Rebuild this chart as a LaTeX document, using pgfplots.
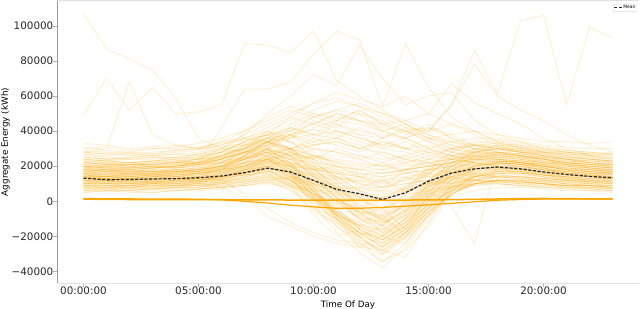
\documentclass[border=0pt]{standalone}
\usepackage{pgfplots}
\usepackage{pgfplotstable}
\pgfplotsset{compat=1.18}
\usepackage{fontspec}
\setmainfont{DejaVu Sans}
\definecolor{org}{HTML}{FFA500}
\definecolor{tickc}{HTML}{262626}

\pgfplotstableread{
id h0 h1 h2 h3 h4 h5 h6 h7 h8 h9 h10 h11 h12 h13 h14 h15 h16 h17 h18 h19 h20 h21 h22 h23
c1 12000 11000 12000 11000 12000 13000 14000 17000 20000 15000 8000 1000 -5000 -9000 -3000 6000 14000 18000 20000 19000 17000 15000 14000 13000
c2 18000 17000 16000 18000 17000 18000 21000 24000 27000 21000 11000 3000 -7000 -13000 -5000 9000 18000 23000 25000 24000 22000 21000 19000 18000
c3 8000 7000 7000 8000 9000 9000 10000 12000 14000 9000 1000 -7000 -13000 -17000 -10000 0 8000 12000 14000 13000 12000 10000 9000 8000
c4 22000 21000 20000 22000 22000 23000 25000 28000 31000 25000 15000 5000 -4000 -11000 -2000 12000 22000 27000 28000 27000 25000 23000 22000 21000
c5 14000 13000 14000 13000 14000 15000 17000 20000 22000 17000 6000 -6000 -16000 -22000 -14000 2000 13000 18000 21000 20000 18000 16000 15000 14000
c6 10000 10000 9000 10000 11000 11000 12000 15000 16000 12000 4000 -3000 -9000 -12000 -5000 4000 10000 13000 15000 14000 13000 12000 11000 10000
c7 27000 25000 24000 25000 25000 27000 29000 32000 35000 29000 18000 8000 -2000 -7000 3000 15000 25000 30000 32000 31000 28000 27000 25000 24000
c8 16000 15000 16000 16000 17000 17000 19000 22000 24000 16000 3000 -10000 -21000 -28000 -18000 -2000 12000 20000 23000 22000 20000 18000 17000 16000
c9 6000 6000 6000 7000 7000 7000 8000 10000 12000 6000 -4000 -14000 -24000 -31000 -21000 -6000 4000 10000 12000 12000 10000 8000 7000 6000
c10 20000 19000 18000 19000 20000 21000 23000 27000 30000 22000 8000 -6000 -18000 -26000 -14000 3000 16000 23000 26000 25000 23000 21000 20000 19000
c11 12000 12000 11000 12000 13000 13000 15000 18000 20000 13000 1000 -12000 -23000 -35000 -24000 -8000 6000 14000 17000 17000 15000 13000 12000 12000
c12 15000 14000 14000 15000 15000 16000 18000 20000 23000 20000 14000 6000 0 -4000 1000 8000 16000 20000 22000 21000 19000 17000 16000 15000
c13 9000 9000 8000 9000 9000 10000 11000 13000 15000 10000 2000 -6000 -12000 -20000 -12000 -2000 6000 10000 12000 12000 11000 10000 9000 9000
c14 24000 23000 22000 23000 23000 24000 26000 31000 34000 26000 14000 2000 -10000 -18000 -6000 10000 22000 28000 30000 29000 27000 25000 24000 23000
c15 13000 13000 12000 13000 13000 14000 16000 19000 22000 14000 -2000 -18000 -29000 -38000 -26000 -10000 6000 15000 18000 18000 16000 14000 13000 13000
c16 11000 10000 10000 11000 11000 12000 14000 16000 18000 12000 0 -10000 -20000 -24000 -16000 -4000 8000 14000 16000 16000 14000 12000 11000 11000
c17 17000 16000 16000 17000 17000 18000 20000 23000 25000 18000 6000 -4000 -14000 -20000 -10000 5000 16000 21000 23000 22000 20000 18000 17000 16000
c18 7000 7000 7000 7000 8000 8000 9000 11000 13000 9000 1000 -7000 -14000 -16000 -8000 0 6000 9000 11000 11000 10000 8000 8000 7000
c19 19000 18000 18000 19000 19000 20000 22000 26000 28000 24000 16000 8000 2000 -4000 4000 12000 20000 25000 27000 26000 24000 22000 20000 19000
c20 14000 14000 13000 14000 15000 15000 17000 21000 24000 18000 6000 -8000 -18000 -26000 -16000 0 12000 18000 20000 20000 18000 16000 15000 14000
c21 16000 17000 15000 16000 18000 17000 20000 25000 30000 26000 18000 10000 -2000 -12000 -6000 6000 18000 26000 28000 26000 23000 21000 19000 17000
c22 10000 11000 10000 11000 10000 12000 13000 17000 21000 16000 5000 -5000 -15000 -19000 -10000 3000 12000 16000 18000 17000 15000 13000 12000 11000
c23 21000 22000 20000 21000 22000 21000 24000 29000 33000 28000 20000 12000 4000 -2000 6000 16000 24000 29000 31000 29000 26000 24000 22000 21000
c24 5000 6000 5000 5000 6000 6000 7000 9000 11000 7000 -2000 -10000 -18000 -22000 -14000 -4000 3000 6000 8000 8000 7000 6000 6000 5000
c25 13000 12000 13000 14000 13000 14000 16000 19000 23000 19000 10000 0 -10000 -16000 -8000 6000 15000 20000 22000 21000 19000 16000 14000 13000
c26 28000 27000 28000 27000 29000 30000 32000 36000 40000 34000 24000 12000 2000 -6000 4000 18000 28000 33000 35000 33000 31000 29000 28000 27000
c27 9000 10000 9000 10000 9000 11000 12000 16000 19000 14000 4000 -6000 -16000 -24000 -16000 -4000 7000 12000 14000 14000 12000 11000 10000 9000
c28 17000 18000 17000 17000 18000 19000 21000 25000 29000 24000 14000 2000 -8000 -14000 -4000 10000 20000 25000 27000 26000 24000 21000 19000 18000
c29 12000 12000 13000 12000 12000 13000 15000 18000 21000 15000 3000 -9000 -20000 -30000 -20000 -4000 9000 15000 17000 17000 15000 14000 13000 12000
c30 23000 22000 22000 23000 24000 24000 26000 30000 34000 30000 22000 14000 6000 0 8000 18000 26000 30000 31000 30000 27000 25000 24000 23000
c31 15000 15000 14000 15000 16000 16000 18000 22000 25000 20000 12000 2000 -6000 -10000 -2000 10000 18000 22000 24000 23000 21000 18000 17000 16000
c32 8000 8000 8000 9000 8000 9000 10000 14000 17000 12000 2000 -8000 -18000 -26000 -18000 -6000 5000 10000 12000 11000 10000 9000 9000 8000
c33 19000 20000 19000 20000 21000 22000 24000 28000 30000 22000 8000 -8000 -20000 -30000 -18000 0 16000 24000 27000 26000 24000 22000 20000 19000
c34 11000 11000 12000 11000 12000 12000 14000 17000 20000 16000 8000 0 -6000 -8000 0 8000 14000 17000 19000 18000 16000 14000 12000 11000
c35 14000 13000 13000 14000 14000 15000 18000 24000 30000 36000 42000 46000 44000 40000 36000 30000 26000 22000 20000 19000 18000 16000 15000 14000
c36 20000 19000 19000 19000 20000 21000 24000 30000 36000 42000 48000 52000 50000 46000 40000 34000 28000 25000 24000 22000 21000 20000 19000 19000
c37 10000 10000 10000 10000 11000 11000 14000 18000 24000 28000 32000 34000 30000 28000 24000 20000 16000 14000 13000 12000 12000 11000 10000 10000
c38 24000 23000 22000 23000 24000 25000 28000 34000 40000 46000 52000 57000 54000 50000 44000 38000 32000 28000 27000 26000 25000 24000 23000 22000
c39 16000 15000 15000 15000 16000 17000 20000 26000 32000 38000 41000 38000 34000 30000 28000 24000 22000 20000 19000 18000 17000 16000 16000 15000
c40 12000 12000 11000 12000 12000 13000 16000 20000 26000 30000 34000 36000 32000 26000 22000 18000 16000 15000 14000 14000 13000 12000 12000 12000
c41 28000 27000 26000 27000 28000 29000 32000 38000 44000 50000 56000 59000 54000 48000 42000 36000 32000 30000 29000 28000 28000 27000 26000 26000
c42 18000 17000 17000 17000 18000 19000 22000 28000 34000 36000 38000 40000 36000 32000 30000 28000 26000 24000 22000 21000 20000 19000 18000 18000
c43 8000 8000 8000 8000 9000 10000 12000 16000 20000 24000 26000 26000 24000 20000 18000 16000 14000 12000 11000 10000 9000 9000 8000 8000
c44 22000 21000 21000 21000 22000 23000 26000 30000 36000 44000 50000 48000 46000 42000 40000 34000 30000 28000 26000 25000 24000 23000 22000 21000
c45 30000 31000 29000 30000 31000 33000 36000 40000 46000 52000 48000 44000 40000 38000 36000 40000 44000 40000 34000 32000 30000 29000 28000 27000
c46 18000 19000 18000 19000 20000 22000 26000 32000 38000 40000 44000 40000 38000 36000 40000 42000 38000 32000 28000 26000 24000 22000 21000 20000
c47 20000 20000 19000 20000 21000 22000 25000 30000 38000 48000 56000 62000 58000 54000 60000 50000 44000 38000 32000 28000 26000 24000 22000 21000
c48 15000 14000 15000 15000 16000 17000 20000 26000 34000 42000 38000 46000 52000 44000 38000 44000 36000 30000 26000 24000 22000 20000 18000 17000
c49 13000 12000 13000 13000 12000 13000 14000 16000 18000 18000 16000 14000 12000 12000 14000 16000 18000 19000 19000 18000 17000 15000 14000 13000
c50 21000 20000 20000 21000 21000 22000 23000 25000 26000 24000 22000 20000 18000 18000 20000 22000 24000 26000 26000 25000 24000 22000 21000 20000
c51 9000 9000 9000 9000 10000 10000 11000 12000 14000 12000 10000 8000 6000 6000 8000 10000 12000 14000 14000 13000 12000 11000 10000 9000
c52 31000 29000 28000 30000 30000 31000 33000 35000 38000 34000 30000 28000 26000 24000 26000 30000 34000 36000 36000 34000 32000 31000 30000 30000
c53 16000 16000 15000 16000 16000 17000 18000 20000 24000 26000 24000 20000 18000 16000 18000 20000 22000 24000 24000 23000 21000 19000 18000 17000
c54 6000 6000 6000 6000 6000 7000 8000 9000 10000 8000 6000 4000 2000 2000 4000 6000 8000 9000 10000 9000 8000 7000 7000 6000
c55 25000 24000 24000 24000 25000 25000 27000 30000 32000 30000 26000 22000 20000 18000 22000 26000 30000 32000 32000 31000 29000 27000 26000 25000
c56 11000 11000 11000 11000 11000 12000 13000 15000 17000 14000 10000 6000 4000 2000 6000 10000 14000 16000 17000 16000 15000 13000 12000 11000
c57 18000 18000 17000 18000 18000 19000 20000 22000 24000 22000 20000 18000 16000 16000 18000 20000 22000 24000 24000 23000 22000 20000 19000 18000
c58 14000 14000 14000 14000 15000 15000 16000 18000 20000 20000 18000 16000 14000 14000 16000 18000 20000 21000 21000 20000 18000 16000 15000 14000
c59 33000 32000 30000 31000 32000 30000 34000 36000 34000 38000 32000 36000 30000 34000 30000 36000 38000 40000 38000 36000 34000 34000 33000 34000
c60 7000 8000 7000 7000 8000 8000 9000 11000 12000 14000 12000 10000 12000 8000 10000 12000 10000 12000 11000 10000 9000 8000 8000 7000
c61 14000 13000 13000 14000 14000 14000 12000 4000 -9000 -14000 -20000 -24000 -26000 -28000 -20000 -8000 4000 12000 16000 16000 15000 14000 14000 14000
c62 10000 10000 10000 10000 10000 10000 8000 2000 -4000 -12000 -18000 -22000 -24000 -26000 -18000 -6000 4000 10000 12000 12000 11000 10000 10000 10000
c63 107000 87000 81000 75000 59000 36000 30000 28000 30000 26000 20000 14000 10000 8000 12000 18000 22000 26000 24000 22000 20000 18000 17000 16000
c64 49000 70000 52000 65000 50000 51000 55000 90000 89000 85000 97000 69000 60000 52000 44000 38000 34000 30000 28000 26000 24000 22000 21000 20000
c65 28000 30000 68000 38000 32000 30000 31000 33000 36000 30000 22000 14000 6000 2000 8000 16000 24000 28000 30000 28000 26000 24000 23000 22000
c66 18000 18000 18000 19000 20000 22000 42000 64000 64000 68000 84000 97000 92000 54000 90000 65000 48000 40000 34000 30000 28000 26000 24000 22000
c67 22000 21000 21000 22000 22000 24000 30000 38000 50000 60000 72000 66000 89000 70000 55000 60000 62000 46000 38000 34000 30000 28000 26000 25000
c68 14000 14000 13000 14000 15000 16000 18000 22000 28000 30000 32000 34000 30000 36000 42000 40000 55000 86000 61000 103000 106000 55000 99000 93000
c69 20000 19000 19000 20000 20000 21000 22000 25000 28000 20000 10000 0 -10000 -14000 0 6000 -3000 -24000 23000 22000 20000 18000 17000 16000
c70 16000 15000 16000 16000 17000 18000 20000 26000 34000 40000 48000 52000 56000 50000 46000 40000 55000 78000 60000 52000 46000 38000 32000 28000
c71 12000 12000 12000 13000 13000 14000 16000 22000 30000 38000 44000 50000 46000 44000 46000 50000 67000 56000 50000 44000 36000 30000 26000 24000
c72 15000 14000 16000 15000 14000 16000 18000 22000 25000 22000 12000 4000 -12000 -8000 -20000 -6000 10000 18000 22000 20000 18000 17000 16000 15000
c73 11000 12000 10000 11000 12000 11000 13000 15000 18000 10000 -8000 -20000 -16000 -22000 -12000 2000 10000 14000 16000 15000 14000 12000 11000 11000
c74 20000 19000 21000 20000 19000 21000 24000 28000 26000 18000 2000 -14000 -26000 -20000 -10000 8000 18000 24000 26000 25000 22000 21000 20000 19000
c75 9000 8000 9000 10000 9000 10000 11000 14000 16000 8000 -6000 -12000 -20000 -14000 -22000 -8000 4000 10000 12000 11000 10000 9000 9000 8000
c76 17000 18000 16000 17000 16000 18000 20000 24000 30000 20000 10000 -2000 4000 -12000 -8000 4000 14000 20000 22000 21000 20000 19000 18000 17000
c77 24000 23000 24000 25000 24000 26000 28000 34000 38000 30000 16000 6000 -8000 -4000 -16000 4000 20000 28000 30000 28000 26000 25000 24000 23000
c78 13000 14000 13000 12000 14000 13000 15000 20000 24000 16000 -4000 -10000 -22000 -28000 -32000 -12000 6000 14000 17000 16000 15000 14000 13000 13000
c79 7000 7000 8000 7000 8000 8000 10000 12000 14000 12000 4000 -2000 -6000 -14000 -6000 2000 8000 11000 12000 11000 10000 9000 8000 7000
c80 19000 18000 19000 20000 19000 20000 22000 28000 34000 28000 24000 16000 10000 6000 14000 10000 20000 26000 28000 27000 25000 23000 21000 20000
c81 12000 11000 11000 12000 12000 13000 14000 16000 20000 14000 6000 -8000 -14000 -10000 -18000 -4000 8000 14000 16000 16000 14000 13000 12000 12000
c82 26000 24000 25000 26000 27000 26000 28000 30000 36000 38000 28000 20000 14000 8000 18000 24000 30000 34000 33000 32000 30000 28000 27000 26000
c83 16000 16000 17000 16000 17000 17000 19000 24000 28000 24000 14000 8000 -4000 2000 -6000 8000 16000 21000 23000 22000 20000 18000 17000 16000
c84 8000 9000 8000 9000 9000 9000 11000 14000 18000 12000 2000 -4000 -16000 -24000 -12000 -2000 6000 10000 12000 12000 11000 10000 9000 8000
c85 14000 15000 14000 15000 14000 16000 17000 20000 26000 30000 20000 6000 -6000 -18000 -12000 2000 14000 20000 22000 21000 19000 17000 16000 15000
c86 21000 20000 21000 21000 22000 22000 24000 28000 32000 26000 18000 10000 -4000 -10000 0 12000 22000 28000 30000 28000 26000 24000 22000 21000
c87 10000 10000 11000 10000 11000 12000 13000 18000 22000 18000 6000 -10000 -26000 -34000 -28000 -14000 4000 12000 14000 14000 13000 12000 11000 10000
c88 18000 17000 18000 17000 18000 18000 20000 24000 28000 20000 8000 -8000 -14000 -22000 -14000 -2000 10000 18000 22000 22000 20000 18000 18000 17000
c89 5000 6000 6000 5000 6000 7000 8000 10000 12000 10000 4000 0 -4000 -8000 -2000 4000 8000 10000 10000 9000 8000 7000 6000 6000
c90 23000 22000 21000 22000 23000 22000 25000 32000 36000 34000 26000 18000 8000 12000 6000 20000 28000 32000 33000 31000 28000 26000 24000 23000
c91 15000 14000 15000 16000 15000 16000 18000 20000 24000 16000 4000 -8000 -18000 -20000 -24000 -8000 8000 16000 20000 20000 18000 16000 15000 15000
c92 13000 12000 13000 14000 13000 14000 18000 26000 34000 40000 36000 44000 38000 30000 34000 28000 24000 22000 20000 18000 17000 15000 14000 13000
c93 19000 20000 19000 19000 20000 22000 26000 30000 40000 36000 46000 42000 50000 40000 44000 36000 30000 27000 25000 24000 22000 21000 20000 19000
c94 11000 11000 12000 11000 12000 12000 14000 18000 22000 28000 24000 30000 26000 22000 26000 22000 18000 16000 14000 13000 12000 12000 11000 11000
c95 25000 24000 25000 26000 25000 27000 30000 36000 42000 48000 44000 50000 46000 40000 36000 42000 36000 32000 30000 28000 27000 26000 25000 24000
c96 16000 17000 16000 16000 17000 18000 22000 28000 34000 30000 36000 32000 28000 34000 30000 26000 24000 22000 20000 19000 18000 17000 16000 16000
c97 9000 9000 9000 10000 10000 11000 13000 18000 24000 20000 26000 22000 18000 22000 16000 14000 13000 12000 11000 10000 10000 9000 9000 9000
c98 22000 21000 22000 21000 22000 24000 28000 34000 38000 42000 38000 36000 42000 36000 30000 32000 28000 26000 24000 23000 22000 22000 21000 21000
c99 29000 28000 27000 28000 29000 30000 34000 40000 48000 54000 50000 46000 52000 44000 40000 36000 34000 32000 30000 29000 28000 28000 27000 27000
c100 14000 14000 14000 15000 15000 16000 19000 24000 28000 26000 30000 28000 24000 28000 24000 22000 20000 19000 18000 17000 16000 15000 15000 14000
c101 18000 18000 17000 18000 19000 20000 24000 28000 32000 38000 34000 40000 36000 32000 36000 30000 26000 24000 23000 22000 21000 20000 19000 18000
c102 12000 13000 12000 13000 13000 12000 14000 15000 17000 16000 14000 12000 14000 10000 12000 14000 16000 17000 18000 17000 15000 14000 13000 12000
c103 20000 21000 20000 19000 20000 21000 22000 24000 26000 22000 18000 20000 16000 14000 18000 22000 24000 26000 25000 24000 23000 22000 21000 20000
c104 8000 8000 9000 8000 8000 9000 10000 11000 13000 11000 9000 7000 8000 5000 7000 9000 11000 12000 12000 11000 10000 9000 9000 8000
c105 27000 26000 27000 26000 27000 28000 30000 32000 34000 30000 26000 24000 22000 20000 24000 28000 30000 32000 31000 30000 29000 28000 27000 27000
c106 15000 16000 15000 15000 16000 16000 17000 19000 22000 20000 18000 16000 14000 12000 16000 18000 20000 22000 22000 21000 19000 17000 16000 16000
c107 10000 10000 10000 11000 10000 11000 12000 13000 15000 13000 11000 9000 7000 8000 10000 12000 13000 15000 15000 14000 13000 12000 11000 10000
c108 17000 17000 18000 17000 17000 18000 19000 21000 23000 21000 19000 17000 15000 16000 18000 20000 22000 23000 23000 22000 21000 19000 18000 17000
c109 13000 13000 13000 13000 14000 14000 15000 17000 19000 17000 15000 13000 11000 11000 13000 15000 17000 19000 19000 18000 16000 15000 14000 13000
c110 23000 23000 22000 23000 23000 24000 25000 27000 29000 27000 25000 23000 21000 20000 22000 24000 26000 28000 28000 27000 25000 24000 23000 23000
c111 6000 7000 6000 7000 7000 7000 8000 9000 11000 9000 7000 5000 3000 4000 6000 7000 9000 10000 10000 9000 8000 8000 7000 7000
}\rawdata
\pgfplotstabletranspose[colnames from=id]\lines\rawdata

\begin{document}
\begin{tikzpicture}
\path[use as bounding box] (-57bp,-26bp) rectangle (583bp,283bp);
\begin{axis}[
  scale only axis, width=582bp, height=282bp,
  xmin=-1.15, xmax=24.15, ymin=-46600, ymax=114200,
  axis line style={draw=none},
  xtick={0,5,10,15,20},
  xticklabels={00:00:00,05:00:00,10:00:00,15:00:00,20:00:00},
  ytick={-40000,-20000,0,20000,40000,60000,80000,100000},
  yticklabels={−40000,−20000,0,20000,40000,60000,80000,100000},
  scaled y ticks=false,
  tick pos=left, tick align=outside, major tick length=3.5bp,
  tick style={color=black!30, line width=0.6bp},
  ticklabel style={font=\fontsize{10.4}{12}\selectfont, text=tickc},
  yticklabel style={inner sep=0pt, anchor=east},
  xticklabel style={inner sep=0pt, anchor=north},
  xlabel={Time Of Day}, ylabel={Aggregate Energy (kWh)},
  label style={font=\fontsize{8.8}{10}\selectfont},
  xlabel style={at={(axis description cs:0.5,0)}, anchor=base, yshift=-24bp},
  ylabel style={at={(axis description cs:-0.0842,0.5)}, anchor=base},
  legend style={at={(axis description cs:1,1)}, anchor=north east, xshift=-2bp, yshift=-3bp,
    font=\fontsize{4.5}{5}\selectfont, draw=black!15, rounded corners=1bp,
    inner sep=0.5bp, nodes={inner sep=0.8bp}},
  legend image code/.code={\draw[#1] (0bp,0bp) -- (8bp,0bp);},
  clip=true,
]
\pgfplotsinvokeforeach{1,...,111}{
  \addplot[org, opacity=0.19, line width=0.85bp, forget plot] table[x expr=\coordindex, y=c#1] {\lines};
}
\addplot[org, line width=1.5bp, forget plot] coordinates {(0,1200)(1,1100)(2,1000)(3,1000)(4,900)(5,900)(6,900)(7,800)(8,800)(9,700)(10,700)(11,700)(12,600)(13,600)(14,700)(15,800)(16,900)(17,1100)(18,1300)(19,1500)(20,1600)(21,1500)(22,1400)(23,1300)};
\addplot[org, line width=1.2bp, forget plot] coordinates {(0,1500)(1,1400)(2,1400)(3,1300)(4,1300)(5,1200)(6,800)(7,0)(8,-1000)(9,-2200)(10,-3200)(11,-4000)(12,-4000)(13,-3500)(14,-2800)(15,-2000)(16,-1200)(17,-300)(18,600)(19,1000)(20,1300)(21,1300)(22,1300)(23,1200)};
\addplot[black!85, line width=1.2bp, dash pattern=on 3.2bp off 1.5bp] coordinates {(0,13200)(1,12300)(2,12400)(3,12700)(4,12900)(5,13400)(6,14400)(7,16300)(8,18900)(9,16700)(10,11900)(11,6800)(12,4300)(13,1000)(14,4900)(15,11400)(16,16100)(17,18500)(18,19500)(19,18500)(20,16700)(21,15300)(22,14200)(23,13400)};
\addlegendentry{Mean}
\draw[black!40, line width=1.5bp] (rel axis cs:0,0) -- (rel axis cs:0,1);
\draw[black!12, line width=1bp] (rel axis cs:0,0) -- (rel axis cs:1,0);
\draw[black!12, line width=1bp] (rel axis cs:0,1) -- (rel axis cs:1,1);
\end{axis}
\end{tikzpicture}
\end{document}
